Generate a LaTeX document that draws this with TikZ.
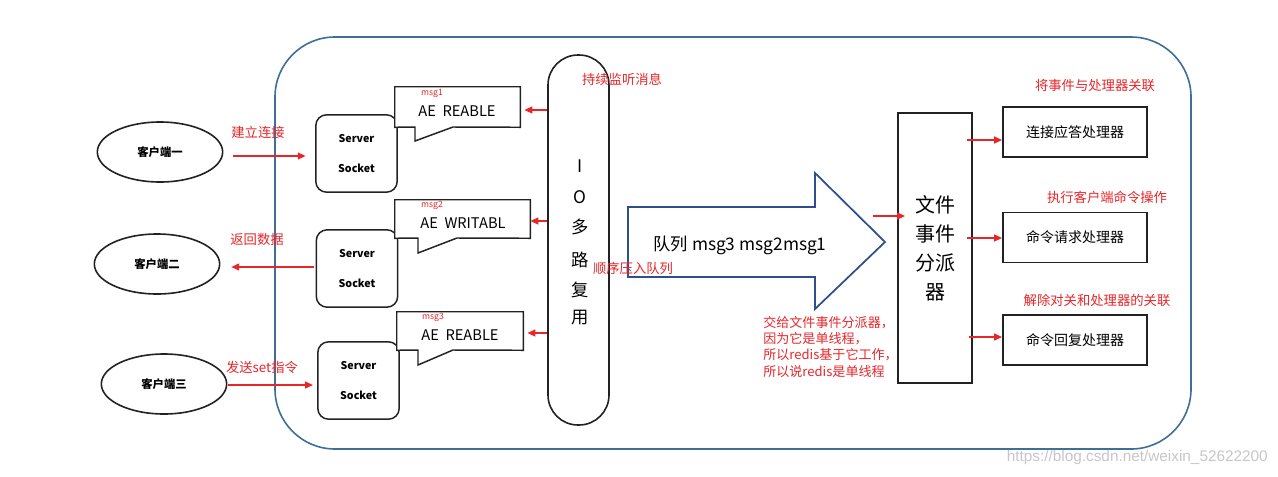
\documentclass[tikz,border=0pt]{standalone}
\usepackage{fontspec}
\setmainfont{Noto Sans CJK SC}
\newfontfamily\wmfont{Liberation Sans}
\usetikzlibrary{shapes.geometric,arrows.meta,calc}
\definecolor{rd}{HTML}{E8262A}
\definecolor{frameblue}{HTML}{3F6F96}
\definecolor{arrblue}{HTML}{2E4F8C}
\definecolor{ink}{HTML}{222222}
\begin{document}
\begin{tikzpicture}[x=0.75pt,y=-0.75pt,
  client/.style={ellipse, draw=ink, line width=1.2pt, minimum width=94pt, minimum height=45pt, font=\bfseries\fontsize{8.5}{10}\selectfont},
  sock/.style={draw=ink, rounded corners=8pt, line width=1.1pt, minimum width=61pt, minimum height=58pt, align=center, font=\bfseries\fontsize{8}{22}\selectfont},
  hbox/.style={draw=ink, line width=1.2pt, minimum width=108pt, minimum height=37.5pt, font=\fontsize{10.5}{12}\selectfont},
  redarr/.style={draw=rd, line width=1.5pt, -{Triangle[length=6pt,width=5pt]}},
  redlbl/.style={text=rd, font=\fontsize{10}{12}\selectfont, inner sep=0pt},
  msglbl/.style={text=rd, font=\fontsize{6.5}{7}\selectfont, inner sep=0pt},
  aetxt/.style={font=\fontsize{11}{12}\selectfont, inner sep=0pt},
  iotxt/.style={font=\fontsize{13}{14}\selectfont, inner sep=0pt},
  callline/.style={draw=ink, line width=1.1pt, fill=white}
]
\useasboundingbox[fill=white] (0,0) rectangle (1278,476);

% big frame
\draw[frameblue, line width=1.2pt, rounded corners=45pt] (275,37) rectangle (1191,449);

% clients
\node[client] (e1) at (160,152) {客户端一};
\node[client] (e2) at (157,264) {客户端二};
\node[client] (e3) at (164,384) {客户端三};

% server sockets
\node[sock] (s1) at (356.5,153.5) {Server\\Socket};
\node[sock] (s2) at (357,268.5) {Server\\Socket};
\node[sock] (s3) at (358.5,380.5) {Server\\Socket};

% client arrows
\coordinate (a1s) at (233,156);
\coordinate (a2s) at (314,267);
\coordinate (a3s) at (228,385);
\draw[redarr, shorten >=7pt] (a1s) -- (a1s -| s1.west);
\draw[redarr, shorten >=8pt] (a2s) -- (a2s -| e2.east);
\draw[redarr, shorten >=3pt] (a3s) -- (a3s -| s3.west);
\node[redlbl] (l1) at (258,132) {建立连接};
\node[redlbl] (l2) at (257,239) {返回数据};
\node[redlbl] (l3) at (262,367) {发送set指令};

% callouts
\node[minimum width=93.75pt, minimum height=30pt, inner sep=0pt] (c1) at (457.5,107) {};
\node[minimum width=101.25pt, minimum height=28.5pt, inner sep=0pt] (c2) at (462.5,219) {};
\node[minimum width=94.5pt, minimum height=28.5pt, inner sep=0pt] (c3) at (460,331) {};
\draw[callline] (c1.north west) -- (c1.north east) -- (c1.south east) -- (453,127) -- (415,141) -- (415,127) -- (c1.south west) -- cycle;
\draw[callline] (c2.north west) -- (c2.north east) -- (c2.south east) -- (457,238) -- (418,253) -- (418,238) -- (c2.south west) -- cycle;
\draw[callline] (c3.north west) -- (c3.north east) -- (c3.south east) -- (453,350) -- (418,365) -- (418,350) -- (c3.south west) -- cycle;
\node[aetxt] (t1) at (457,111) {AE\ \ REABLE};
\node[aetxt] (t2) at (463,223) {AE\ \ WRITABL};
\node[aetxt] (t3) at (460,335) {AE\ \ REABLE};
\node[msglbl] (m1) at (432,93) {msg1};
\node[msglbl] (m2) at (432,205) {msg2};
\node[msglbl] (m3) at (433,317) {msg3};

% IO multiplexing column
\node[draw=ink, line width=1.2pt, rounded corners=22.5pt, minimum width=45.75pt, minimum height=277.5pt, inner sep=0pt] (io) at (578.5,240) {};
\node[iotxt] (io1) at (580,166) {I};
\node[iotxt] (io2) at (580,197) {O};
\node[iotxt] (io3) at (580,227) {多};
\node[iotxt] (io4) at (580,260) {路};
\node[iotxt] (io5) at (580,290) {复};
\node[iotxt] (io6) at (580,318) {用};
\node[redlbl] (listen) at (622,79) {持续监听消息};
\draw[redarr] (io.west |- 0,110) -- ([xshift=3pt]c1.east |- 0,110);
\draw[redarr] (io.west |- 0,221) -- ([xshift=0pt]c2.east |- 0,221);
\draw[redarr] (io.west |- 0,333) -- ([xshift=3pt]c3.east |- 0,333);

% big queue arrow
\draw[arrblue, line width=1.3pt, fill=white] (628,207) -- (815,207) -- (815,173) -- (885,242) -- (815,309) -- (815,277) -- (628,277) -- cycle;
\node[font=\fontsize{13}{14}\selectfont, inner sep=0pt] (q) at (740,245) {队列 msg3 msg2msg1};
\node[redlbl] (push) at (633,268) {顺序压入队列};

% dispatcher
\node[draw=ink, line width=1.2pt, minimum width=55.5pt, minimum height=202.5pt, align=center, font=\fontsize{15}{21.75}\selectfont] (disp) at (935,248) {文件\\事件\\分派\\器};
\coordinate (qa) at (873,216);
\draw[redarr, shorten >=-6pt] (qa) -- (qa -| disp.west);

% red paragraph
\node[text=rd, font=\fontsize{9.8}{12.2}\selectfont, align=left, anchor=north west, inner sep=0pt] (note) at (763,316) {交给文件事件分派器，\\因为它是单线程，\\所以redis基于它工作，\\所以说redis是单线程};

% handlers
\node[hbox] (h1) at (1075,132) {连接应答处理器};
\node[hbox] (h2) at (1075,237.5) {命令请求处理器};
\node[hbox] (h3) at (1075,340) {命令回复处理器};
\draw[redarr] ([xshift=-4.5pt]disp.east |- 0,140) -- (h1.west |- 0,140);
\draw[redarr] ([xshift=-4pt]disp.east |- 0,238) -- (h2.west |- 0,238);
\draw[redarr] ([xshift=-3pt]disp.east |- 0,337) -- (h3.west |- 0,337);
\node[redlbl] (hl1) at (1095,85) {将事件与处理器关联};
\node[redlbl] (hl2) at (1107,197) {执行客户端命令操作};
\node[redlbl] (hl3) at (1097,300) {解除对关和处理器的关联};

% watermark
\node[font=\wmfont\fontsize{11.5}{12}\selectfont, text=black!22, anchor=east, inner sep=0pt] (wm) at (1268,458) {https://blog.csdn.net/weixin\_52622200};
\end{tikzpicture}
\end{document}
